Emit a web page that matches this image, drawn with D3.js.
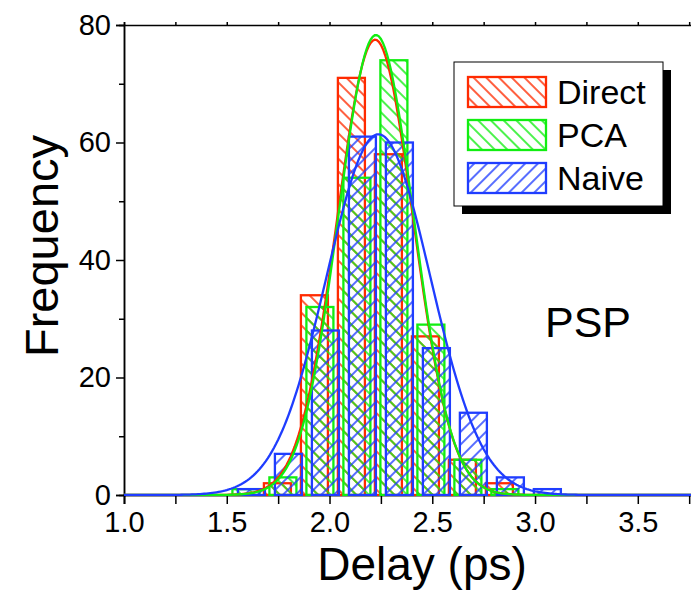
<!DOCTYPE html>
<html>
<head>
<meta charset="utf-8">
<script src="https://cdn.jsdelivr.net/npm/d3@7"></script>
<style>
  body { margin: 0; background: #fff; }
  svg { display: block; font-family: Arial, "Liberation Sans", sans-serif; }
</style>
</head>
<body>
<svg id="chart" width="691" height="595"></svg>
<script>
// Histogram bins (centre of each 0.18 ps bin) and counts per method
const binCenters = [1.62, 1.80, 1.98, 2.16, 2.34, 2.52, 2.70, 2.88, 3.06];
const seriesNames = ["Direct", "PCA", "Naive"];
const directCounts = [0, 2, 34, 71, 58, 27, 6, 2, 0];
const pcaCounts    = [1, 3, 32, 54, 74, 29, 6, 1, 0];
const naiveCounts  = [1, 7, 28, 61, 60, 25, 14, 3, 1];

// Gaussian fit of each histogram: centre, standard deviation, peak height
const fitCenters = [2.222, 2.226, 2.238];
const fitSigmas  = [0.185, 0.183, 0.252];
const fitPeaks   = [77.5, 78.3, 61.4];

// Axis ticks
const xTicks = [1.0, 1.5, 2.0, 2.5, 3.0, 3.5];
const xMinorTicks = [1.25, 1.75, 2.25, 2.75, 3.25, 3.75];
const yTicks = [0, 20, 40, 60, 80];
const yMinorTicks = [10, 30, 50, 70];

const colors = ["#ff2a00", "#11ee11", "#1f3dff"];
const hatchAngle = [-45, -45, 45];
const seriesShift = [-11, -5.5, 0];   // pixel offset of each series' bars
const counts = [directCounts, pcaCounts, naiveCounts];

const svg = d3.select("#chart");
const margin = { left: 124, top: 25 };
const plotRight = 720, plotBottom = 495;

const x = d3.scaleLinear().domain([1.0, 3.9]).range([margin.left, plotRight]);
const y = d3.scaleLinear().domain([0, 80]).range([plotBottom, margin.top]);

// Hatch patterns
const defs = svg.append("defs");
colors.forEach((c, i) => {
  const p = defs.append("pattern")
    .attr("id", "hatch" + i)
    .attr("patternUnits", "userSpaceOnUse")
    .attr("width", 9).attr("height", 9)
    .attr("patternTransform", `rotate(${hatchAngle[i]})`);
  p.append("line")
    .attr("x1", 1).attr("y1", 0).attr("x2", 1).attr("y2", 9)
    .attr("stroke", c).attr("stroke-width", 1.5);
});
defs.append("clipPath").attr("id", "plotClip")
  .append("rect")
  .attr("x", margin.left).attr("y", margin.top - 5)
  .attr("width", plotRight - margin.left).attr("height", plotBottom - margin.top + 6);

// Axes
const axisStyle = g => {
  g.selectAll("path.domain").attr("stroke", "#000").attr("stroke-width", 1.5);
  g.selectAll(".tick line").attr("stroke", "#000").attr("stroke-width", 1.5);
  g.selectAll("text").attr("font-size", 29).attr("fill", "#000")
    .attr("font-family", "Arial, 'Liberation Sans', sans-serif");
};

svg.append("g")
  .attr("transform", `translate(0,${plotBottom})`)
  .call(d3.axisBottom(x).tickValues(xTicks).tickSize(9).tickPadding(7)
    .tickFormat(d3.format(".1f")))
  .call(axisStyle);
svg.append("g")
  .attr("transform", `translate(0,${plotBottom})`)
  .call(d3.axisBottom(x).tickValues(xMinorTicks).tickSize(9).tickFormat(""))
  .call(axisStyle);

svg.append("g")
  .attr("transform", `translate(${margin.left},0)`)
  .call(d3.axisLeft(y).tickValues(yTicks).tickSize(8).tickPadding(5)
    .tickFormat(d3.format("d")))
  .call(axisStyle);
svg.append("g")
  .attr("transform", `translate(${margin.left},0)`)
  .call(d3.axisLeft(y).tickValues(yMinorTicks).tickSize(5).tickFormat(""))
  .call(axisStyle);

svg.append("g")
  .attr("transform", `translate(0,${margin.top})`)
  .call(d3.axisTop(x).tickValues(xTicks.concat(xMinorTicks)).tickSize(3).tickFormat(""))
  .call(axisStyle);

// Bars and fitted curves
const plot = svg.append("g").attr("clip-path", "url(#plotClip)");
const binWidth = 0.18;
const barW = (x(binWidth) - x(0)) * 0.73;
const sample = d3.range(1.0, 3.9001, 0.01);
const line = d3.line().x(d => x(d[0])).y(d => y(d[1]));

counts.forEach((vals, i) => {
  const rows = binCenters.map((c, k) => ({ c, v: vals[k] })).filter(d => d.v > 0);
  plot.append("g").selectAll("rect")
    .data(rows)
    .join("rect")
    .attr("x", d => x(d.c) - barW / 2 + seriesShift[i])
    .attr("y", d => y(d.v))
    .attr("width", barW)
    .attr("height", d => y(0) - y(d.v))
    .attr("fill", `url(#hatch${i})`)
    .attr("stroke", colors[i])
    .attr("stroke-width", 2.3);
});

counts.forEach((vals, i) => {
  const pts = sample.map(t => [t,
    fitPeaks[i] * Math.exp(-((t - fitCenters[i]) ** 2) / (2 * fitSigmas[i] ** 2))]);
  plot.append("path")
    .datum(pts)
    .attr("d", line)
    .attr("fill", "none")
    .attr("stroke", colors[i])
    .attr("stroke-width", 2.3);
});

// Axis titles
svg.append("text")
  .attr("x", (margin.left + plotRight) / 2).attr("y", 580)
  .attr("text-anchor", "middle").attr("font-size", 46)
  .text("Delay (ps)");
svg.append("text")
  .attr("transform", "translate(58,246) rotate(-90)")
  .attr("text-anchor", "middle").attr("font-size", 47)
  .text("Frequency");

// Annotation
svg.append("text")
  .attr("x", 545).attr("y", 337)
  .attr("font-size", 43)
  .text("PSP");

// Legend with drop shadow
const lg = svg.append("g");
lg.append("rect").attr("x", 462).attr("y", 70).attr("width", 209).attr("height", 144)
  .attr("fill", "#000");
lg.append("rect").attr("x", 454).attr("y", 62).attr("width", 209).attr("height", 144)
  .attr("fill", "#fff").attr("stroke", "#000").attr("stroke-width", 1);
seriesNames.forEach((name, i) => {
  const yy = 77 + i * 43;
  lg.append("rect").attr("x", 468).attr("y", yy).attr("width", 78).attr("height", 30)
    .attr("fill", `url(#hatch${i})`).attr("stroke", colors[i]).attr("stroke-width", 2.3);
  lg.append("text").attr("x", 557).attr("y", yy + 27)
    .attr("font-size", 34).text(name);
});
</script>
</body>
</html>
